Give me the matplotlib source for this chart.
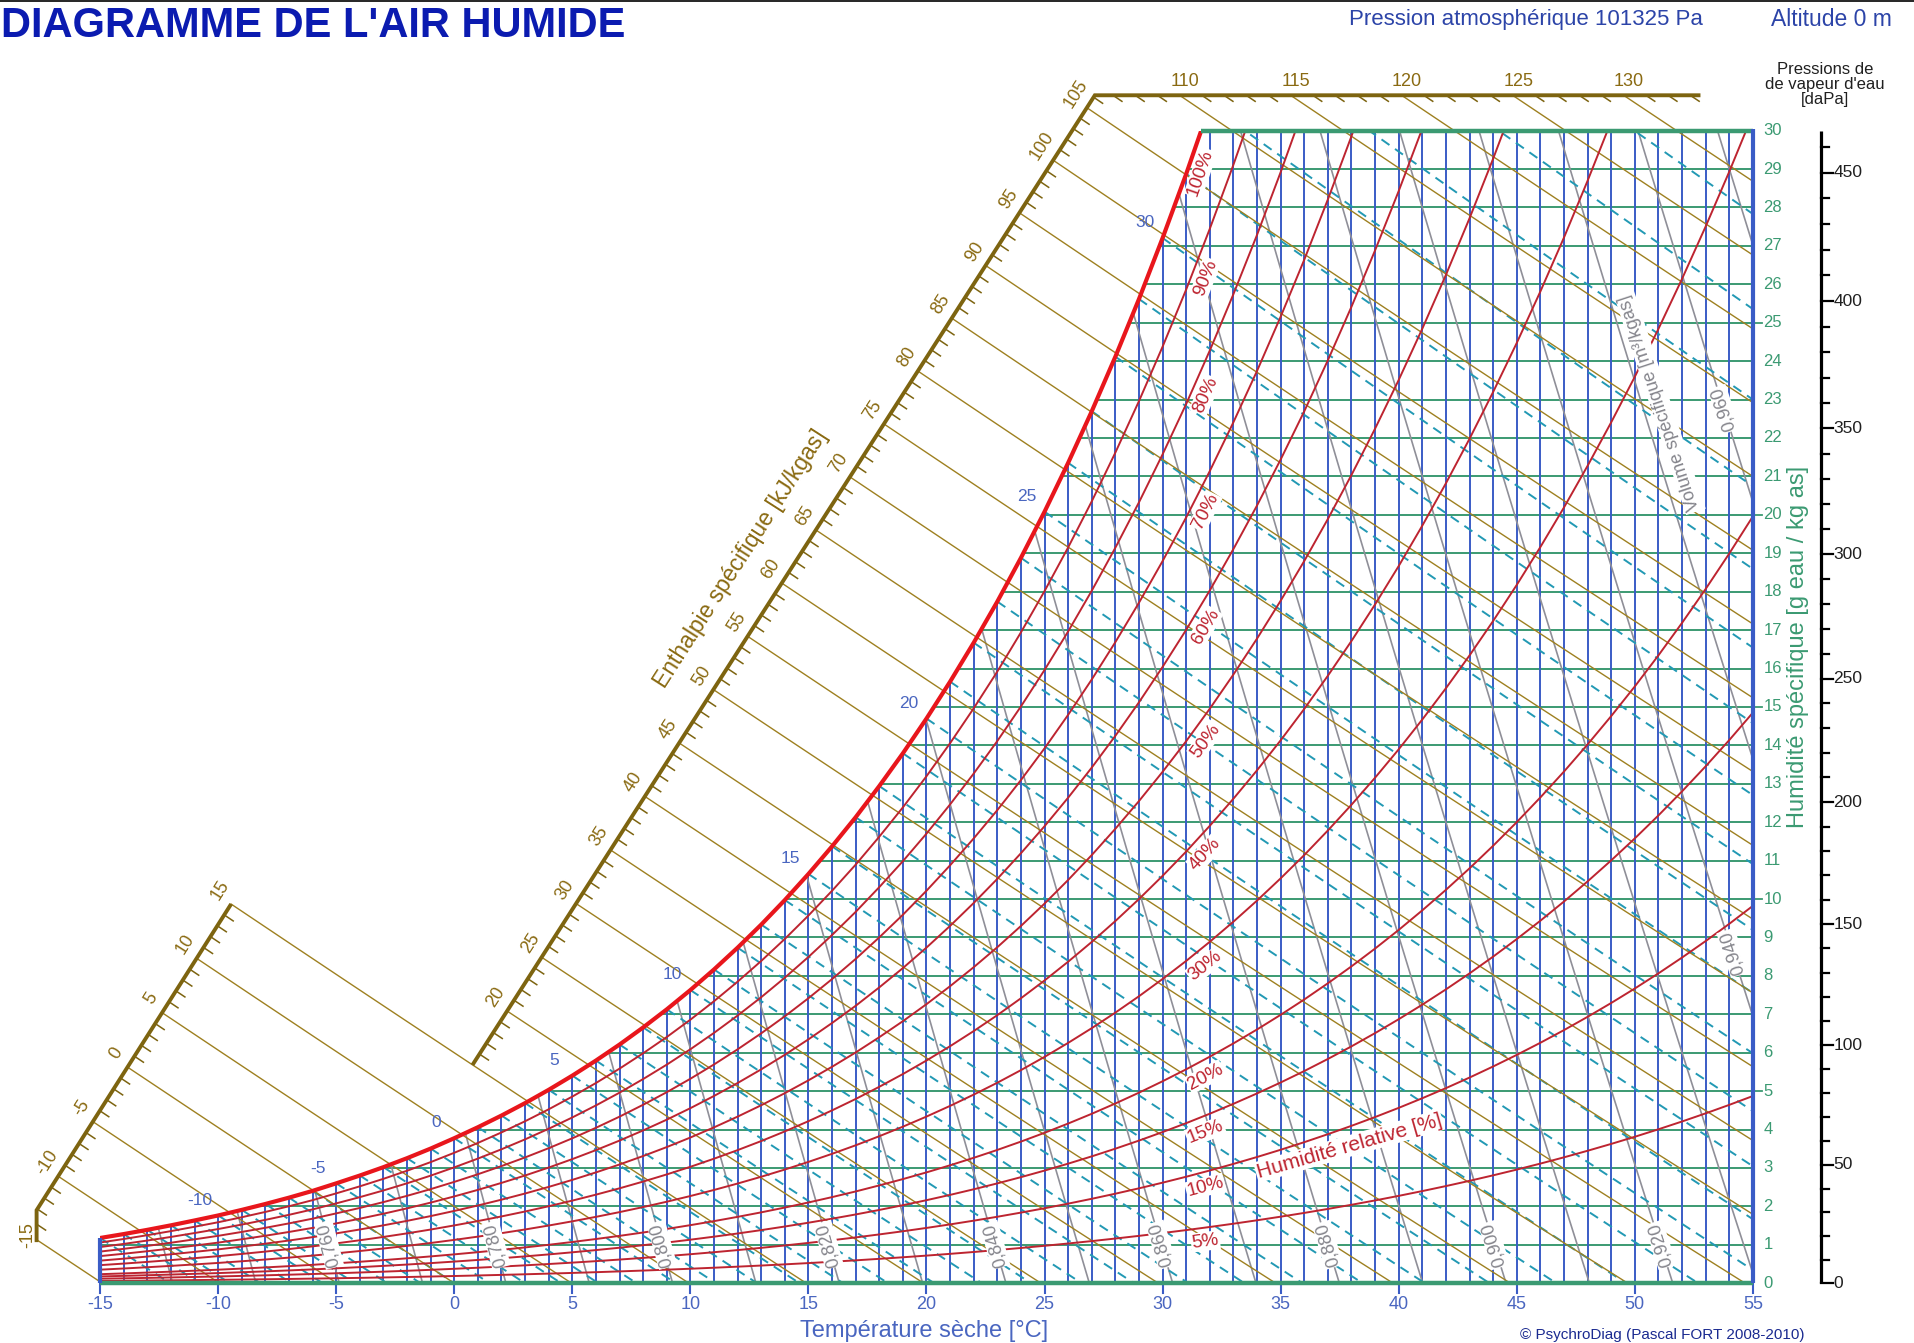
import numpy as np
import matplotlib
matplotlib.use("Agg")
import matplotlib.pyplot as plt
from matplotlib.patches import Polygon, Rectangle
from matplotlib.lines import Line2D

plt.rcParams['font.family'] = ['Liberation Sans', 'DejaVu Sans']

P_ATM = 101325.0

# saturation vapour pressure over water [Pa], one value per degC from -15 to 55
temp_table = list(range(-15, 56))
psat_table = [191.4, 208.0, 225.8, 244.9, 265.4, 286.5, 310.0, 334.9, 361.5, 390.0,
              421.7, 454.6, 489.7, 527.4, 567.7, 611.2, 657.1, 706.0, 758.0, 813.5,
              872.6, 935.4, 1002, 1073, 1148, 1228, 1313, 1403, 1498, 1599,
              1706, 1819, 1938, 2065, 2198, 2339, 2488, 2645, 2810, 2985,
              3169, 3363, 3567, 3782, 4008, 4246, 4495, 4758, 5034, 5323,
              5627, 5945, 6280, 6630, 6997, 7381, 7784, 8205, 8646, 9108,
              9590, 10094, 10620, 11171, 11745, 12344, 12970, 13623, 14303, 15012, 15752]

rh_levels = [5, 10, 15, 20, 30, 40, 50, 60, 70, 80, 90, 100]
enthalpy_ticks = list(range(-15, 134))
enthalpy_major = list(range(-15, 131, 5))
wetbulb_levels = list(range(-15, 41))
sat_label_temps = [-10, -5, 0, 5, 10, 15, 20, 25, 30]
volume_levels = [0.74, 0.75, 0.76, 0.77, 0.78, 0.79, 0.80, 0.81, 0.82, 0.83, 0.84, 0.85,
                 0.86, 0.87, 0.88, 0.89, 0.90, 0.91, 0.92, 0.93, 0.94, 0.95, 0.96, 0.97]
volume_labels_bottom = [0.76, 0.78, 0.80, 0.82, 0.84, 0.86, 0.88, 0.90, 0.92]
volume_labels_side = [0.94, 0.96]
volume_side_w = [8.6, 22.75]
temp_ticks = list(range(-15, 56, 5))
hum_ticks = list(range(0, 31))
pv_ticks = list(range(0, 461, 10))

C_BLUE = "#3a5cc6"
C_GREEN = "#3b9a72"
C_RED = "#bd2430"
C_SAT = "#e8161c"
C_TEAL = "#2299b4"
C_GREY = "#8f8f98"
C_OLIVE = "#9e8020"
C_SCALE = "#7d6410"
C_TXTBLUE = "#4a66c0"

temp_arr = np.array(temp_table, dtype=float)
psat_arr = np.array(psat_table, dtype=float)
ws_arr = 622.0 * psat_arr / (P_ATM - psat_arr)
t30 = np.interp(30.0, ws_arr, temp_arr)


def h_of(t, w):
    return 1.006 * t + w / 1000.0 * (2501.0 + 1.86 * t)


def w_of_h(h, t):
    return (h - 1.006 * t) / (2501.0 + 1.86 * t) * 1000.0


def t_of_v(v, w):
    return v * P_ATM / (287.042 * (1 + 1.6078 * w / 1000.0)) - 273.15


def w_wetbulb(twb, t):
    wsb = ws_arr[temp_table.index(twb)] / 1000.0
    return ((2501 - 2.326 * twb) * wsb - 1.006 * (t - twb)) / (2501 + 1.86 * t - 4.186 * twb) * 1000.0


fig = plt.figure(figsize=(19.14, 13.43), dpi=100)
ax = fig.add_axes([0, 0, 1, 1])
ax.set_xlim(-19.24, 61.824)
ax.set_ylim(-1.556, 33.40)
ax.axis("off")


def ang(p0, p1):
    a = ax.transData.transform(p0)
    b = ax.transData.transform(p1)
    return np.degrees(np.arctan2(b[1] - a[1], b[0] - a[0]))


# clip zone: under the saturation curve, inside the frame
verts = [(-15, 0), (-15, ws_arr[0])]
verts += [(t, w) for t, w in zip(temp_arr, ws_arr) if w < 30]
verts += [(t30, 30), (55, 30), (55, 0)]
sat_zone = Polygon(verts, closed=True, transform=ax.transData)
frame = Rectangle((-15, 0), 70, 30, transform=ax.transData)
h_zone = Rectangle((-30, 0), 85, 40, transform=ax.transData)

# grid: specific humidity (green) and dry temperature (blue)
for w in hum_ticks[1:-1]:
    ln, = ax.plot([-15, 55], [w, w], color=C_GREEN, lw=1.4, zorder=1)
    ln.set_clip_path(sat_zone)
for t in range(-14, 55):
    ln, = ax.plot([t, t], [0, 31], color=C_BLUE, lw=1.4, zorder=1.1)
    ln.set_clip_path(sat_zone)

# specific volume lines
ww = np.linspace(0, 31, 20)
for v in volume_levels:
    ln, = ax.plot(t_of_v(v, ww), ww, color=C_GREY, lw=1.2, zorder=1.5)
    ln.set_clip_path(sat_zone)

# wet bulb lines
for twb in wetbulb_levels:
    tt = np.linspace(twb, 62, 25)
    ln, = ax.plot(tt, w_wetbulb(twb, tt), color=C_TEAL, lw=1.4, dashes=(5, 3.5), zorder=2)
    ln.set_clip_path(sat_zone)

# enthalpy scales and lines
scale_segments = [((-17.69, 1.07), (-17.69, 1.90)), ((-17.69, 1.90), (-9.45, 9.87)),
                  ((0.77, 5.68), (27.13, 30.92)), ((27.13, 30.92), (52.78, 30.92))]


def scale_point(h):
    for i, ((ta, wa), (tb, wb)) in enumerate(scale_segments):
        s = np.linspace(0, 1, 600)
        hh = h_of(ta + s * (tb - ta), wa + s * (wb - wa))
        if hh[0] - 1e-6 <= h <= hh[-1] + 1e-6:
            k = np.interp(h, hh, s)
            return ta + k * (tb - ta), wa + k * (wb - wa), i
    return None


ax.plot([-17.69, -17.69, -9.45], [1.07, 1.90, 9.87], color=C_SCALE, lw=2.8, zorder=3,
        solid_capstyle="butt", solid_joinstyle="miter")
ax.plot([0.77, 27.13, 52.78], [5.68, 30.92, 30.92], color=C_SCALE, lw=2.8, zorder=3,
        solid_capstyle="butt", solid_joinstyle="miter")

rot_left = ang(scale_segments[1][0], scale_segments[1][1])
rot_mid = ang(scale_segments[2][0], scale_segments[2][1])
for h in enthalpy_ticks:
    sp = scale_point(h)
    if sp is None:
        continue
    ts, wsp, seg = sp
    if h in enthalpy_major:
        tt = np.linspace(ts, 62, 30)
        ln, = ax.plot(tt, w_of_h(h, tt), color=C_OLIVE, lw=1.0, zorder=2.5)
        ln.set_clip_path(h_zone)
        if seg == 0:
            off, rot = (-6.5, 3), 90
        elif seg == 1:
            off, rot = (-8, 10), rot_left
        elif seg == 2:
            off, rot = (-8, 10), rot_mid
        else:
            off, rot = (4, 10), 0
        ax.annotate(str(h), (ts, wsp), xytext=off, textcoords="offset points",
                    ha="center", va="center", rotation=rot, rotation_mode="anchor",
                    fontsize=13, color="#8a6a12", zorder=6)
    else:
        tt = np.array([ts, ts + 0.38])
        ax.plot(tt, w_of_h(h, tt), color=C_SCALE, lw=1.1, zorder=2.5)

ax.text(12.14, 18.85, "Enthalpie spécifique [kJ/kgas]", rotation=rot_mid,
        rotation_mode="anchor", ha="center", va="center", fontsize=16.5, color="#8a6a12")

# relative humidity curves
for rh in rh_levels:
    phi = rh / 100.0
    wr = 622.0 * phi * psat_arr / (P_ATM - phi * psat_arr)
    if rh == 100:
        ln, = ax.plot(temp_arr, wr, color=C_SAT, lw=3.0, zorder=4)
    else:
        ln, = ax.plot(temp_arr, wr, color=C_RED, lw=1.4, zorder=3)
    ln.set_clip_path(frame)
    tl = 31.2 if rh == 100 else 31.4
    pl = np.interp(tl, temp_arr, psat_arr)
    wl = 622.0 * phi * pl / (P_ATM - phi * pl)
    i31 = temp_table.index(31)
    rot = ang((31, wr[i31]), (32, wr[i31 + 1]))
    ax.annotate(f"{rh}%", (tl, wl), xytext=(7, -9), textcoords="offset points",
                ha="center", va="center", rotation=rot, rotation_mode="anchor",
                fontsize=13.5, color=C_RED, zorder=6,
                bbox=dict(boxstyle="square,pad=0.05", fc="white", ec="none"))

ax.text(37.9, 3.57, "Humidité relative [%]", rotation=16, rotation_mode="anchor",
        ha="center", va="center", fontsize=15, color=C_RED, zorder=6,
        bbox=dict(boxstyle="square,pad=0.05", fc="white", ec="none"))

# saturation temperature labels
for t in sat_label_temps:
    ax.annotate(str(t), (t, ws_arr[temp_table.index(t)]), xytext=(-13, 11),
                textcoords="offset points", ha="center", va="center",
                fontsize=12.5, color=C_TXTBLUE, zorder=6)

# volume labels
for v in volume_labels_bottom:
    rot = ang((t_of_v(v, 0), 0), (t_of_v(v, 3), 3))
    ax.text(t_of_v(v, 1.0), 1.0, f"{v:.3f}".replace(".", ","), rotation=rot,
            rotation_mode="anchor", ha="center", va="center", fontsize=13,
            color="#85858c", zorder=6,
            bbox=dict(boxstyle="square,pad=0.05", fc="white", ec="none"))
for v, wv in zip(volume_labels_side, volume_side_w):
    rot = ang((t_of_v(v, 0), 0), (t_of_v(v, 3), 3))
    ax.text(t_of_v(v, wv), wv, f"{v:.3f}".replace(".", ","), rotation=rot,
            rotation_mode="anchor", ha="center", va="center", fontsize=13,
            color="#85858c", zorder=6,
            bbox=dict(boxstyle="square,pad=0.05", fc="white", ec="none"))
rot = ang((t_of_v(0.95, 0), 0), (t_of_v(0.95, 3), 3))
ax.text(51.07, 22.91, "Volume spécifique [m³/kgas]", rotation=rot, rotation_mode="anchor",
        ha="center", va="center", fontsize=13, color="#85858c", zorder=6,
        bbox=dict(boxstyle="square,pad=0.1", fc="white", ec="none"))

# frame edges
ax.plot([-15, 55], [0, 0], color=C_GREEN, lw=3.2, zorder=4.5, solid_capstyle="butt")
ax.plot([t30, 55], [30, 30], color=C_GREEN, lw=3.2, zorder=4.5, solid_capstyle="butt")
ax.plot([55, 55], [0, 30.05], color=C_BLUE, lw=3.0, zorder=4.6, solid_capstyle="butt")
ax.plot([-15, -15], [0, ws_arr[0]], color=C_BLUE, lw=3.0, zorder=4.6, solid_capstyle="butt")

# bottom axis
for t in temp_ticks:
    ax.plot([t, t], [0, -0.25], color=C_BLUE, lw=1.5, zorder=4)
    ax.text(t, -0.56, str(t), ha="center", va="center", fontsize=13, color=C_TXTBLUE)
ax.text(19.9, -1.24, "Température sèche [°C]", ha="center", va="center",
        fontsize=17, color=C_TXTBLUE)

# right humidity axis
for w in hum_ticks:
    if w % 5 == 0 and 0 < w < 30:
        ax.plot([55, 55.4], [w, w], color=C_GREEN, lw=1.3, zorder=4)
    ax.text(55.45, w, str(w), ha="left", va="center", fontsize=12, color=C_GREEN)
ax.text(56.9, 16.56, "Humidité spécifique [g eau / kg as]", rotation=90,
        ha="center", va="center", fontsize=17, color=C_GREEN)

# vapour pressure axis [daPa]
t_ax = 57.89
ax.plot([t_ax, t_ax], [0, 30], color="black", lw=2.3, zorder=4, solid_capstyle="butt")
for p in pv_ticks:
    wp = 622.0 * p * 10 / (P_ATM - p * 10)
    if p % 50 == 0:
        ax.plot([t_ax, t_ax + 0.5], [wp, wp], color="black", lw=1.6, zorder=4)
        ax.text(t_ax + 0.52, wp, str(p), ha="left", va="center", fontsize=12.5, color="#202020")
    else:
        ax.plot([t_ax, t_ax + 0.33], [wp, wp], color="black", lw=1.6, zorder=4)
ax.text(58.06, 31.19, "Pressions de\nde vapeur d'eau\n[daPa]", ha="center", va="center",
        fontsize=12, linespacing=1.0, color="#202020")

# titles
ax.text(-19.2, 32.72, "DIAGRAMME DE L'AIR HUMIDE", ha="left", va="center",
        fontsize=30, fontweight="bold", color="#0b1bb0")
ax.text(52.88, 32.88, "Pression atmosphérique 101325 Pa", ha="right", va="center",
        fontsize=16, color="#2c44a8")
ax.text(60.9, 32.88, "Altitude 0 m", ha="right", va="center", fontsize=16.5, color="#2c44a8")
ax.text(51.17, -1.36, "© PsychroDiag (Pascal FORT 2008-2010)", ha="center", va="center",
        fontsize=11, color="#1a2a90")

fig.add_artist(Line2D([0, 1], [0.9995, 0.9995], color="black", lw=1.2))

fig.savefig("out.png", dpi=100, facecolor="white")
